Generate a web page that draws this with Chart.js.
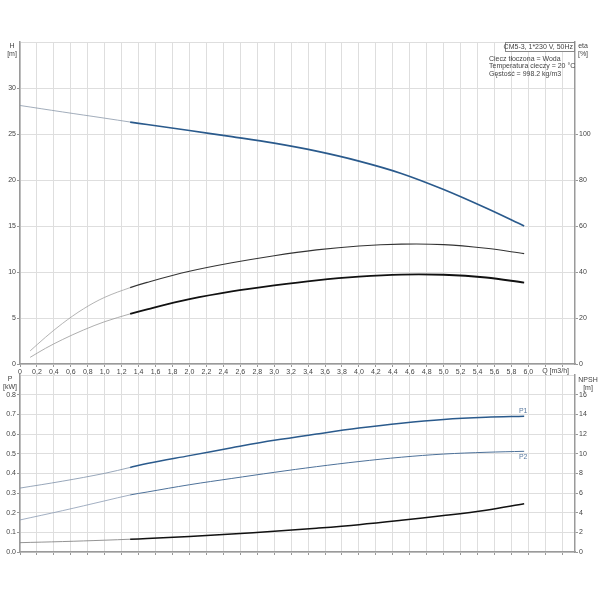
<!DOCTYPE html>
<html>
<head>
<meta charset="utf-8">
<script src="https://cdn.jsdelivr.net/npm/chart.js@4.4.1/dist/chart.umd.min.js"></script>
<style>
  body { margin: 0; background: #fff; }
  #wrap { position: relative; width: 600px; height: 600px; }
  canvas { position: absolute; left: 0; }
  #topChart { top: 0; }
  #bottomChart { top: 369px; }
</style>
</head>
<body>
<div id="wrap">
  <canvas id="topChart" width="600" height="375"></canvas>
  <canvas id="bottomChart" width="600" height="231"></canvas>
</div>
<script>
// data
var qFlow = [0, 0.5, 1.0, 1.3, 1.5, 2.0, 2.5, 3.0, 3.5, 4.0, 4.5, 5.0, 5.5, 5.95];
var headH = [28.1, 27.4, 26.72, 26.3, 26.03, 25.38, 24.71, 24.0, 23.13, 22.05, 20.71, 18.96, 16.95, 15.0];
var powerP1 = [0.325, 0.36, 0.40, 0.43, 0.45, 0.49, 0.53, 0.568, 0.60, 0.63, 0.655, 0.674, 0.685, 0.69];
var powerP2 = [0.163, 0.21, 0.26, 0.29, 0.305, 0.342, 0.374, 0.405, 0.434, 0.46, 0.482, 0.498, 0.507, 0.512];
var npsh = [0.95, 1.06, 1.2, 1.3, 1.37, 1.58, 1.82, 2.1, 2.42, 2.78, 3.22, 3.7, 4.25, 4.9];

var qEta = [0.12, 0.3, 0.5, 0.75, 1.0, 1.3, 1.5, 2.0, 2.5, 3.0, 3.5, 4.0, 4.5, 5.0, 5.5, 5.95];
var etaPump = [5.7, 11.6, 17.6, 24.0, 29.0, 33.2, 35.5, 40.3, 44.0, 47.1, 49.6, 51.3, 52.1, 51.9, 50.3, 48.0];
var etaTotal = [2.9, 6.8, 10.6, 14.8, 18.4, 21.8, 23.8, 28.2, 31.6, 34.2, 36.4, 38.0, 38.9, 38.8, 37.6, 35.4];

var infoLines = ['Ciecz tłoczona = Woda', 'Temperatura cieczy = 20 °C', 'Gęstość = 998.2 kg/m3'];
var pumpTitle = 'CM5-3, 1*230 V, 50Hz';

var dutyStart = 1.3; // curves are drawn thin below this flow
var FONT = 'Liberation Sans';
var TXT = '#444';

function pairs(xs, ys) {
    return xs.map(function (x, i) { return { x: x, y: ys[i] }; });
}

// thin/light before the duty range, thick after
function seg(thinColor, thickColor, thinW, thickW) {
    return {
        borderColor: function (c) { return c.p0.parsed.x < dutyStart ? thinColor : thickColor; },
        borderWidth: function (c) { return c.p0.parsed.x < dutyStart ? thinW : thickW; }
    };
}

function line(label, xs, ys, axis, thinColor, thickColor, thinW, thickW) {
    return {
        label: label,
        data: pairs(xs, ys),
        yAxisID: axis,
        borderColor: thickColor,
        borderWidth: thickW,
        pointRadius: 0,
        tension: 0.35,
        segment: seg(thinColor, thickColor, thinW, thickW)
    };
}

function qLabel(v) {
    if (v > 6.05) return '';
    return v === 0 ? '0' : v.toFixed(1).replace('.', ',');
}

var gridStyle = { color: '#dedede', lineWidth: 1, tickLength: 3, tickColor: '#999' };
var borderStyle = { color: '#9a9a9a', width: 1.5 };
var tickFont = { family: FONT, size: 7 };

function xScale(showLabels, h) {
    return {
        type: 'linear', min: 0, max: 6.55,
        grid: gridStyle, border: borderStyle,
        ticks: { stepSize: 0.2, includeBounds: false, autoSkip: false, maxRotation: 0,
                 display: showLabels, font: tickFont, color: TXT, padding: 1, callback: qLabel },
        afterFit: function (s) { s.height = h; }
    };
}

function yScale(pos, max, step, lastLabel, fmt) {
    var tickColor = function (c) { return c.tick && c.tick.value > lastLabel + 1e-6 ? 'rgba(0,0,0,0)' : '#999'; };
    return {
        type: 'linear', position: pos, min: 0, max: max,
        grid: pos === 'left'
            ? Object.assign({}, gridStyle, { tickColor: tickColor })
            : { drawOnChartArea: false, tickLength: 3, tickColor: tickColor },
        border: borderStyle,
        ticks: { stepSize: step, font: tickFont, color: TXT, padding: 1,
                 callback: function (v) { return v > lastLabel + 1e-6 ? '' : fmt(v); } },
        afterFit: function (s) { s.width = pos === 'left' ? 20 : 25; }
    };
}

function text(ctx, str, x, y, align, color) {
    ctx.fillStyle = color || TXT;
    ctx.textAlign = align || 'center';
    ctx.fillText(str, x, y);
}

var topLabels = {
    id: 'topLabels',
    afterDraw(chart) {
        const { ctx, chartArea: { top, right, bottom } } = chart;
        ctx.save();
        ctx.font = '7px ' + FONT;
        ctx.textBaseline = 'middle';
        text(ctx, 'H', 12, 46);
        text(ctx, '[m]', 12, 54);
        text(ctx, 'eta', 583, 46);
        text(ctx, '[%]', 583, 54);
        text(ctx, 'Q [m3/h]', right - 6, bottom + 7, 'right');

        // pump title box
        ctx.strokeStyle = '#888';
        ctx.lineWidth = 1;
        ctx.fillStyle = '#fff';
        ctx.fillRect(505, top, right - 505, 9);
        ctx.strokeRect(505.5, top + 0.5, right - 506, 9);
        text(ctx, pumpTitle, right - 2, top + 5, 'right');

        infoLines.forEach(function (s, i) {
            text(ctx, s, 489, top + 17 + i * 7.4, 'left');
        });
        ctx.restore();
    }
};

var bottomLabels = {
    id: 'bottomLabels',
    afterDraw(chart) {
        const { ctx, chartArea: { top } } = chart;
        ctx.save();
        ctx.font = '7px ' + FONT;
        ctx.textBaseline = 'middle';
        text(ctx, 'P', 10, top + 4);
        text(ctx, '[kW]', 10, top + 12);
        text(ctx, 'NPSH', 588, top + 5);
        text(ctx, '[m]', 588, top + 13);

        var p1 = chart.getDatasetMeta(0).data;
        var p2 = chart.getDatasetMeta(1).data;
        var e1 = p1[p1.length - 1], e2 = p2[p2.length - 1];
        text(ctx, 'P1', e1.x - 1, e1.y - 5, 'center', '#5a7aa0');
        text(ctx, 'P2', e2.x - 1, e2.y + 6, 'center', '#5a7aa0');
        ctx.restore();
    }
};

var common = {
    responsive: false,
    animation: false,
    plugins: { legend: { display: false }, tooltip: { enabled: false } }
};

var topChart = new Chart(document.getElementById('topChart'), {
    type: 'line',
    data: {
        datasets: [
            line('H', qFlow, headH, 'y', '#8a98aa', '#2a5a8c', 0.8, 1.7),
            line('eta pump', qEta, etaPump, 'y2', '#a0a0a0', '#333333', 0.8, 1.1),
            line('eta total', qEta, etaTotal, 'y2', '#999999', '#111111', 0.8, 1.8)
        ]
    },
    options: Object.assign({}, common, {
        layout: { padding: { top: 42, left: 0, right: 0, bottom: 0 } },
        scales: {
            x: xScale(true, 11),
            y: yScale('left', 35, 5, 30, function (v) { return v; }),
            y2: yScale('right', 140, 20, 100, function (v) { return v; })
        }
    }),
    plugins: [topLabels]
});

var bottomChart = new Chart(document.getElementById('bottomChart'), {
    type: 'line',
    data: {
        datasets: [
            line('P1', qFlow, powerP1, 'y', '#7d90a8', '#2a5a8c', 0.8, 1.5),
            line('P2', qFlow, powerP2, 'y', '#8a9bb2', '#4d7199', 0.8, 1.0),
            line('NPSH', qFlow, npsh, 'y2', '#888888', '#111111', 0.9, 1.5)
        ]
    },
    options: Object.assign({}, common, {
        layout: { padding: { top: 6, left: 0, right: 0, bottom: 44 } },
        scales: {
            x: xScale(false, 4),
            y: yScale('left', 0.9, 0.1, 0.8, function (v) { return v.toFixed(1); }),
            y2: yScale('right', 18, 2, 16, function (v) { return v; })
        }
    }),
    plugins: [bottomLabels]
});
</script>
</body>
</html>
